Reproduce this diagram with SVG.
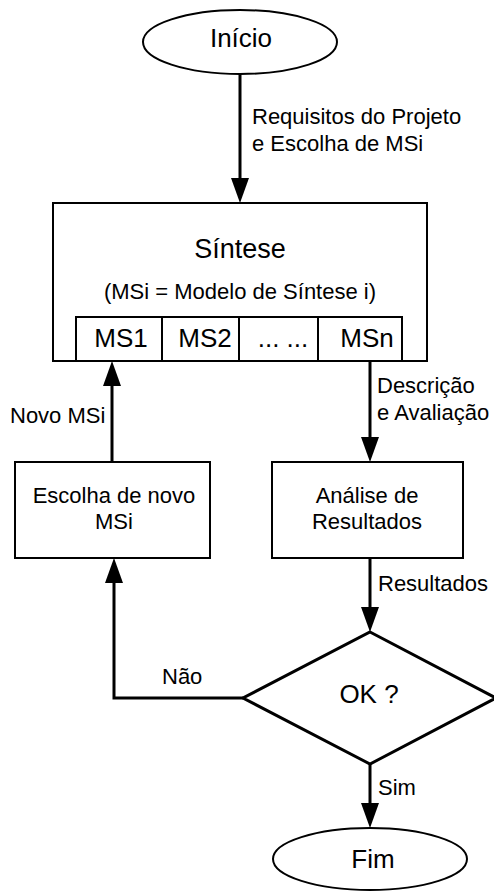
<svg xmlns="http://www.w3.org/2000/svg" width="494" height="891" viewBox="0 0 494 891">
<style>
text{font-family:"Liberation Sans",Arial,Helvetica,sans-serif;fill:#000}
.s{fill:#fff;stroke:#000;stroke-width:2}
.d{fill:#fff;stroke:#000;stroke-width:3}
.c{fill:none;stroke:#000;stroke-width:3;marker-end:url(#ah)}
.t22{font-size:22px}
.t26{font-size:26px}
.m{text-anchor:middle}
</style>
<defs>
<marker id="ah" markerUnits="userSpaceOnUse" markerWidth="26" markerHeight="20" refX="0" refY="9" orient="auto" overflow="visible">
<path d="M0,0 L25,9 L0,18 Z" fill="#000"/>
</marker>
</defs>
<rect width="494" height="891" fill="#fff"/>
<g id="connectors">
<line class="c" x1="240" y1="74" x2="240" y2="178"/>
<line class="c" x1="370" y1="361" x2="370" y2="437"/>
<line class="c" x1="370" y1="558" x2="370" y2="607"/>
<line class="c" x1="370" y1="764" x2="370" y2="803"/>
<path class="c" d="M243 698 H114 V583"/>
<line class="c" x1="112" y1="462" x2="112" y2="386"/>
<text class="t22" x="252" y="124">Requisitos do Projeto</text>
<text class="t22" x="252" y="151">e Escolha de MSi</text>
<text class="t22" x="377" y="393">Descrição</text>
<text class="t22" x="377" y="420">e Avaliação</text>
<text class="t22" x="10" y="423">Novo MSi</text>
<text class="t22" x="378" y="591">Resultados</text>
<text class="t22" x="162" y="684">Não</text>
<text class="t22" x="378" y="795">Sim</text>
</g>
<g id="inicio">
<ellipse class="s" cx="240" cy="42" rx="97" ry="32"/>
<text class="t26 m" x="241" y="47">Início</text>
</g>
<g id="sintese">
<rect class="s" x="53" y="203" width="374" height="158"/>
<text class="m" style="font-size:27px" x="240" y="258">Síntese</text>
<text class="t22 m" x="240" y="299">(MSi = Modelo de Síntese i)</text>
<rect class="s" x="76" y="317" width="86" height="44"/>
<rect class="s" x="162" y="317" width="77" height="44"/>
<rect class="s" x="239" y="317" width="79" height="44"/>
<rect class="s" x="318" y="317" width="84" height="44"/>
<text class="t26 m" x="121" y="347">MS1</text>
<text class="t26 m" x="205" y="347">MS2</text>
<text class="t26 m" x="283" y="347">... ...</text>
<text class="t26 m" x="367" y="347">MSn</text>
</g>
<g id="escolha">
<rect class="s" x="15" y="462" width="195" height="96"/>
<text class="t22 m" x="114" y="503">Escolha de novo</text>
<text class="t22 m" x="114" y="529">MSi</text>
</g>
<g id="analise">
<rect class="s" x="272" y="462" width="191" height="96"/>
<text class="t22 m" x="367" y="503">Análise de</text>
<text class="t22 m" x="367" y="529">Resultados</text>
</g>
<g id="ok">
<polygon class="d" points="370,632 496,698 370,764 243,698"/>
<text class="t26 m" x="369" y="703">OK ?</text>
</g>
<g id="fim">
<ellipse class="s" cx="370" cy="859" rx="97" ry="31"/>
<text class="t26 m" x="373" y="868">Fim</text>
</g>
</svg>
